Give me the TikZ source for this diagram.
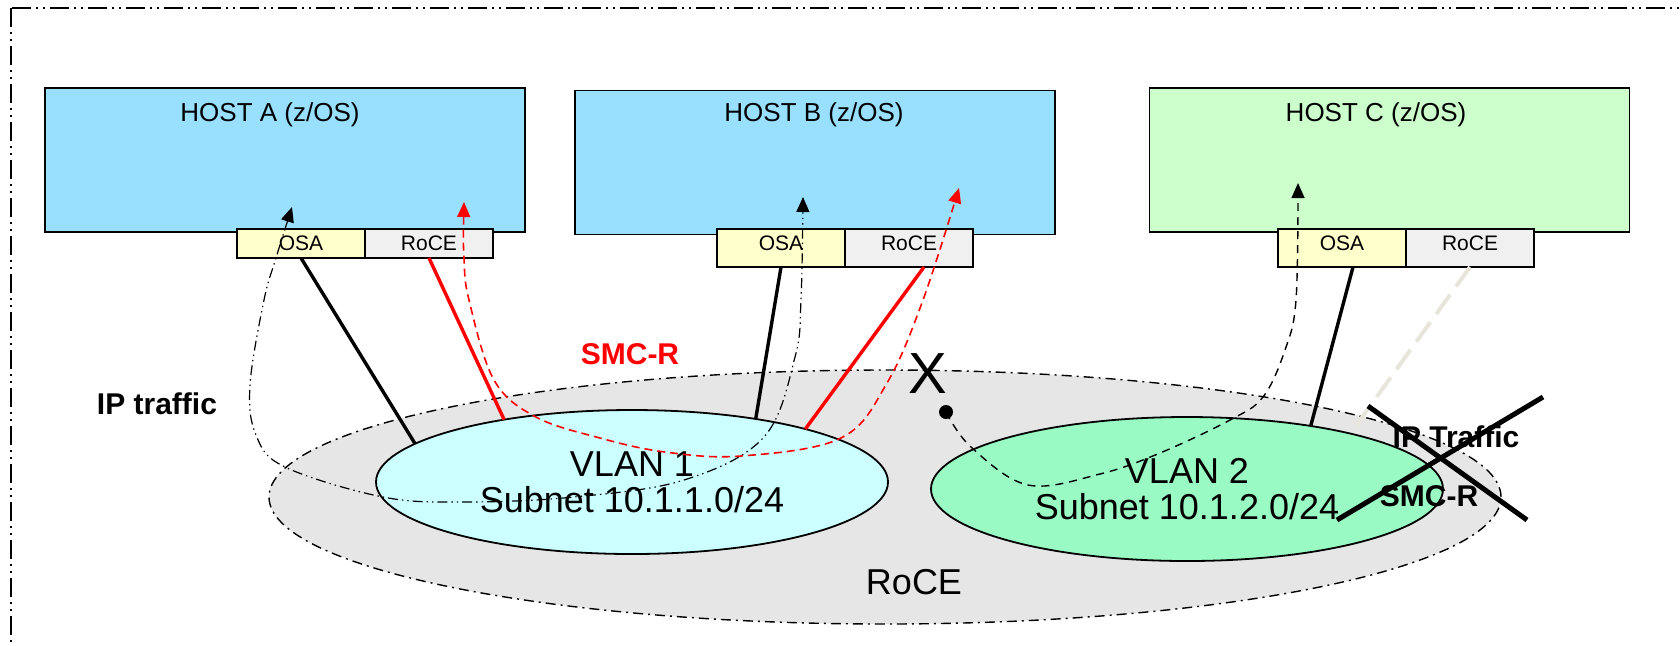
\documentclass[tikz,border=0pt]{standalone}
\usepackage{fontspec}
\setmainfont{Liberation Sans}
\usetikzlibrary{positioning,shapes.geometric,arrows.meta}

\definecolor{hostblue}{RGB}{153,224,255}
\definecolor{hostgreen}{RGB}{204,255,204}
\definecolor{osayellow}{RGB}{255,255,204}
\definecolor{rocegray}{RGB}{240,240,240}
\definecolor{vlancyan}{RGB}{204,255,255}
\definecolor{vlangreen}{RGB}{153,250,196}
\definecolor{netgray}{RGB}{230,230,230}
\definecolor{paleline}{RGB}{232,230,218}

\tikzset{
  frameline/.style={line width=1pt, dash pattern=on 9.5pt off 2.5pt on 1pt off 2.5pt on 1pt off 2.5pt},
  hostbox/.style={draw, line width=0.9pt, minimum width=240pt, minimum height=72pt, inner sep=0pt, outer sep=0pt},
  hosttitle/.style={inner sep=0pt, font=\fontsize{13}{15}\selectfont},
  portbox/.style={draw, line width=0.9pt, minimum width=64pt, inner sep=0pt, outer sep=0pt, font=\fontsize{10.5}{12}\selectfont},
  tallport/.style={portbox, minimum height=19pt, text height=7.5pt, text depth=5pt},
  netcloud/.style={ellipse, fill=netgray, draw, line width=0.7pt, dash pattern=on 5pt off 2.5pt on 1pt off 2.5pt, minimum width=616pt, minimum height=127pt, inner sep=0pt, outer sep=0pt},
  vlan/.style={ellipse, draw, line width=0.9pt, minimum width=256pt, minimum height=72pt, inner sep=0pt, outer sep=0pt, align=center, font=\fontsize{18}{18}\selectfont},
  biglabel/.style={inner sep=0pt, font=\fontsize{18}{18}\selectfont},
  boldlabel/.style={inner sep=0pt, font=\fontsize{15}{15}\selectfont\bfseries},
  bigx/.style={inner sep=0pt, font=\fontsize{29}{29}\selectfont},
  wire/.style={line width=1.7pt},
  smcwire/.style={line width=1.7pt, red},
  palewire/.style={line width=2pt, paleline, dash pattern=on 12pt off 5pt},
  crossline/.style={line width=2.5pt},
  iptraffic/.style={line width=0.6pt, dash pattern=on 5pt off 2pt on 0.7pt off 2pt on 0.7pt off 2pt},
  smcflow/.style={line width=0.8pt, red, dash pattern=on 4pt off 2.5pt},
  blockedflow/.style={line width=0.7pt, dash pattern=on 4pt off 3pt},
  twoway/.style={arrows={Triangle[length=7.5pt,width=6.5pt]-Triangle[length=7.5pt,width=6.5pt]}},
  oneway/.style={arrows={-Triangle[length=7.5pt,width=6.5pt]}},
  dotmark/.style={circle, fill=black, inner sep=0pt, minimum size=7pt}
}

\begin{document}
\begin{tikzpicture}[x=0.5pt, y=-0.5pt]
\useasboundingbox (0,0) rectangle (1680,645);
\clip (0,0) rectangle (1680,645);

% outer frame
\draw[frameline] (11,8) rectangle (1760,720);

% networks
\node[netcloud] (roce) at (885,497) {};
\node[vlan, fill=vlancyan] (vlan1) at (632,482) {VLAN 1\\Subnet 10.1.1.0/24};
\node[vlan, fill=vlangreen] (vlan2) at (1187,489) {VLAN 2\\Subnet 10.1.2.0/24};
\node[biglabel] (roceText) at (914,582) {RoCE};

% hosts
\node[hostbox, fill=hostblue] (hostA) at (285,160) {};
\node[hostbox, fill=hostblue] (hostB) at (815,162.5) {};
\node[hostbox, fill=hostgreen] (hostC) at (1389.5,160) {};
\node[hosttitle] (titleA) at (270,115) {HOST A (z/OS)};
\node[hosttitle] (titleB) at (814,115) {HOST B (z/OS)};
\node[hosttitle] (titleC) at (1376,115) {HOST C (z/OS)};

% adapters
\node[portbox, fill=osayellow, minimum height=14.5pt] (osaA) at (301,243.5) {OSA};
\node[portbox, fill=rocegray, minimum height=14.5pt, right=0pt of osaA] (roceA) {RoCE};
\node[tallport, fill=osayellow] (osaB) at (781,248) {OSA};
\node[tallport, fill=rocegray, right=0pt of osaB] (roceB) {RoCE};
\node[tallport, fill=osayellow] (osaC) at (1342,248) {OSA};
\node[tallport, fill=rocegray, right=0pt of osaC] (roceC) {RoCE};

% physical links
\draw[wire] (osaA.south) -- (vlan1.170);
\draw[smcwire] (roceA.south) -- (vlan1.154);
\draw[wire] (osaB.south) -- (vlan1.27);
\draw[smcwire] ([xshift=7.5pt]roceB.south) -- (vlan1.17);
\draw[wire] ([xshift=5.5pt]osaC.south) -- (vlan2.27);
\coordinate (paleEnd) at (1355,427);
\draw[palewire] (roceC.south) -- (paleEnd);

% traffic flows
\coordinate (ipA) at (292,207);
\coordinate (ipB) at (803,197);
\coordinate (smcA) at (464,202);
\coordinate (smcB) at (959,188);
\coordinate (ipC) at (1298,183);
\draw[iptraffic, twoway] plot[smooth, tension=0.6] coordinates {(ipA) (276,258) (264,300) (250,385) (256,435) (285,467) (383,497) (465,502) (574,497) (684,480) (764,437) (795,357) (801,300) (ipB)};
\draw[smcflow, twoway] plot[smooth, tension=0.6] coordinates {(smcA) (464,258) (469,300) (494,380) (536,417) (600,438) (665,452) (741,456) (841,438) (887,383) (923,300) (smcB)};
\node[dotmark] (blocked) at (946,412) {};
\draw[blockedflow, oneway] plot[smooth, tension=0.6] coordinates {(blocked) (971,447) (1028,485) (1100,474) (1160,453) (1230,420) (1263,397) (1285,350) (1296,300) (ipC)};

% labels
\node[boldlabel] (ipLabel) at (157,404) {IP traffic};
\node[boldlabel, text=red] (smcLabel) at (630,354) {SMC-R};
\node[bigx] (blockX) at (928,374) {X};
\node[boldlabel] (ipLabelC) at (1456,437) {IP Traffic};
\node[boldlabel] (smcLabelC) at (1429,496) {SMC-R};

% crossed out
\coordinate (crossA1) at (1368,406);
\coordinate (crossA2) at (1527,520);
\coordinate (crossB1) at (1543,397);
\coordinate (crossB2) at (1337,520);
\draw[crossline] (crossA1) -- (crossA2);
\draw[crossline] (crossB1) -- (crossB2);
\end{tikzpicture}
\end{document}
